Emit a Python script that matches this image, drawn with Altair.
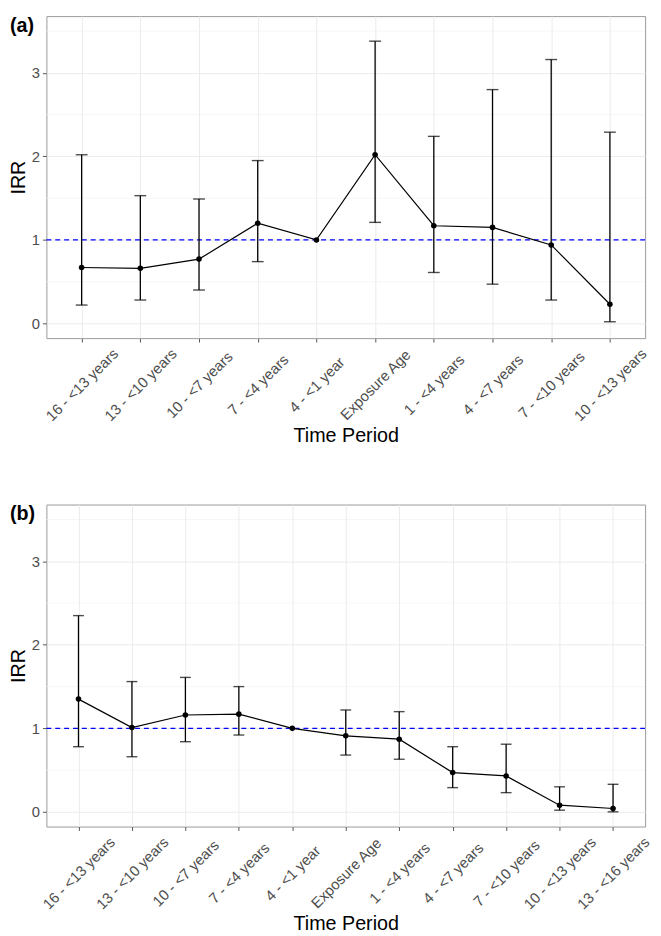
import altair as alt
import pandas as pd

# ---- data ----
cats_a = ["16 - <13 years", "13 - <10 years", "10 - <7 years", "7 - <4 years",
          "4 - <1 year", "Exposure Age", "1 - <4 years", "4 - <7 years",
          "7 - <10 years", "10 - <13 years"]
irr_a = [0.67, 0.66, 0.77, 1.20, 1.00, 2.02, 1.17, 1.15, 0.94, 0.23]
lo_a = [0.22, 0.28, 0.40, 0.74, None, 1.21, 0.61, 0.47, 0.28, 0.02]
hi_a = [2.02, 1.53, 1.49, 1.95, None, 3.38, 2.24, 2.80, 3.16, 2.29]

cats_b = ["16 - <13 years", "13 - <10 years", "10 - <7 years", "7 - <4 years",
          "4 - <1 year", "Exposure Age", "1 - <4 years", "4 - <7 years",
          "7 - <10 years", "10 - <13 years", "13 - <16 years"]
irr_b = [1.35, 1.01, 1.16, 1.17, 1.00, 0.91, 0.87, 0.47, 0.43, 0.08, 0.04]
lo_b = [0.78, 0.66, 0.84, 0.92, None, 0.68, 0.63, 0.29, 0.23, 0.02, 0.00]
hi_b = [2.35, 1.56, 1.61, 1.50, None, 1.22, 1.20, 0.78, 0.81, 0.30, 0.33]

ref_value = [1.0]
y_major = [0, 1, 2, 3]
y_minor = [0.5, 1.5, 2.5, 3.5]
y_domain = [-0.176, 3.68]

FONT = "Liberation Sans"
W, H = 608, 327


def panel(cats, irr, lo, hi, label, cap):
    df = pd.DataFrame({"period": cats, "irr": irr, "lo": lo, "hi": hi})
    x = alt.X("period:N", sort=cats, title="Time Period",
              scale=alt.Scale(type="point", padding=0.6),
              axis=alt.Axis(labelAngle=-45, labelAlign="center",
                            labelBaseline="middle", labelPadding=43,
                            titlePadding=2))
    yscale = alt.Scale(domain=y_domain, nice=False, zero=False)
    y = alt.Y("irr:Q", scale=yscale, title="IRR",
              axis=alt.Axis(values=y_major, format="d", labelPadding=3,
                            titlePadding=3))

    minor = alt.Chart(pd.DataFrame({"v": y_minor})).mark_rule(
        color="#F2F2F2", strokeWidth=0.7
    ).encode(y=alt.Y("v:Q", scale=yscale))

    refline = alt.Chart(pd.DataFrame({"v": ref_value})).mark_rule(
        color="#0000FF", strokeDash=[5, 4], strokeWidth=1.3
    ).encode(y=alt.Y("v:Q", scale=yscale))

    base = alt.Chart(df)
    bars = base.mark_rule(color="black", strokeWidth=1.3).encode(
        x=x, y=alt.Y("lo:Q", scale=yscale), y2="hi:Q")
    cap_hi = base.mark_tick(color="black", size=cap, thickness=1.4).encode(
        x=x, y=alt.Y("hi:Q", scale=yscale))
    cap_lo = base.mark_tick(color="black", size=cap, thickness=1.4).encode(
        x=x, y=alt.Y("lo:Q", scale=yscale))
    line = base.mark_line(color="black", strokeWidth=1.2).encode(x=x, y=y)
    pts = base.mark_circle(color="black", size=32, opacity=1).encode(x=x, y=y)

    tag = alt.Chart(pd.DataFrame({"t": [label]})).mark_text(
        align="left", baseline="alphabetic", fontSize=20, fontWeight="bold",
        font=FONT, color="black"
    ).encode(x=alt.value(-37), y=alt.value(16), text="t:N")

    return alt.layer(minor, refline, bars, cap_hi, cap_lo, line, pts, tag,
                     ).properties(width=W, height=H)


pa = panel(cats_a, irr_a, lo_a, hi_a, "(a)", 12)
pb = panel(cats_b, irr_b, lo_b, hi_b, "(b)", 11)

chart = alt.vconcat(pa, pb, spacing=58).properties(padding=0).configure_view(
    stroke="#999999", strokeWidth=1
).configure_axis(
    labelFont=FONT, titleFont=FONT, labelFontSize=15, titleFontSize=20,
    labelColor="#4D4D4D", titleColor="black", titleFontWeight="normal",
    tickColor="#555555", tickSize=4, domain=False,
    grid=True, gridColor="#EBEBEB", gridWidth=1
)

chart.save("out.html", embed_options={"renderer": "svg", "actions": False})
